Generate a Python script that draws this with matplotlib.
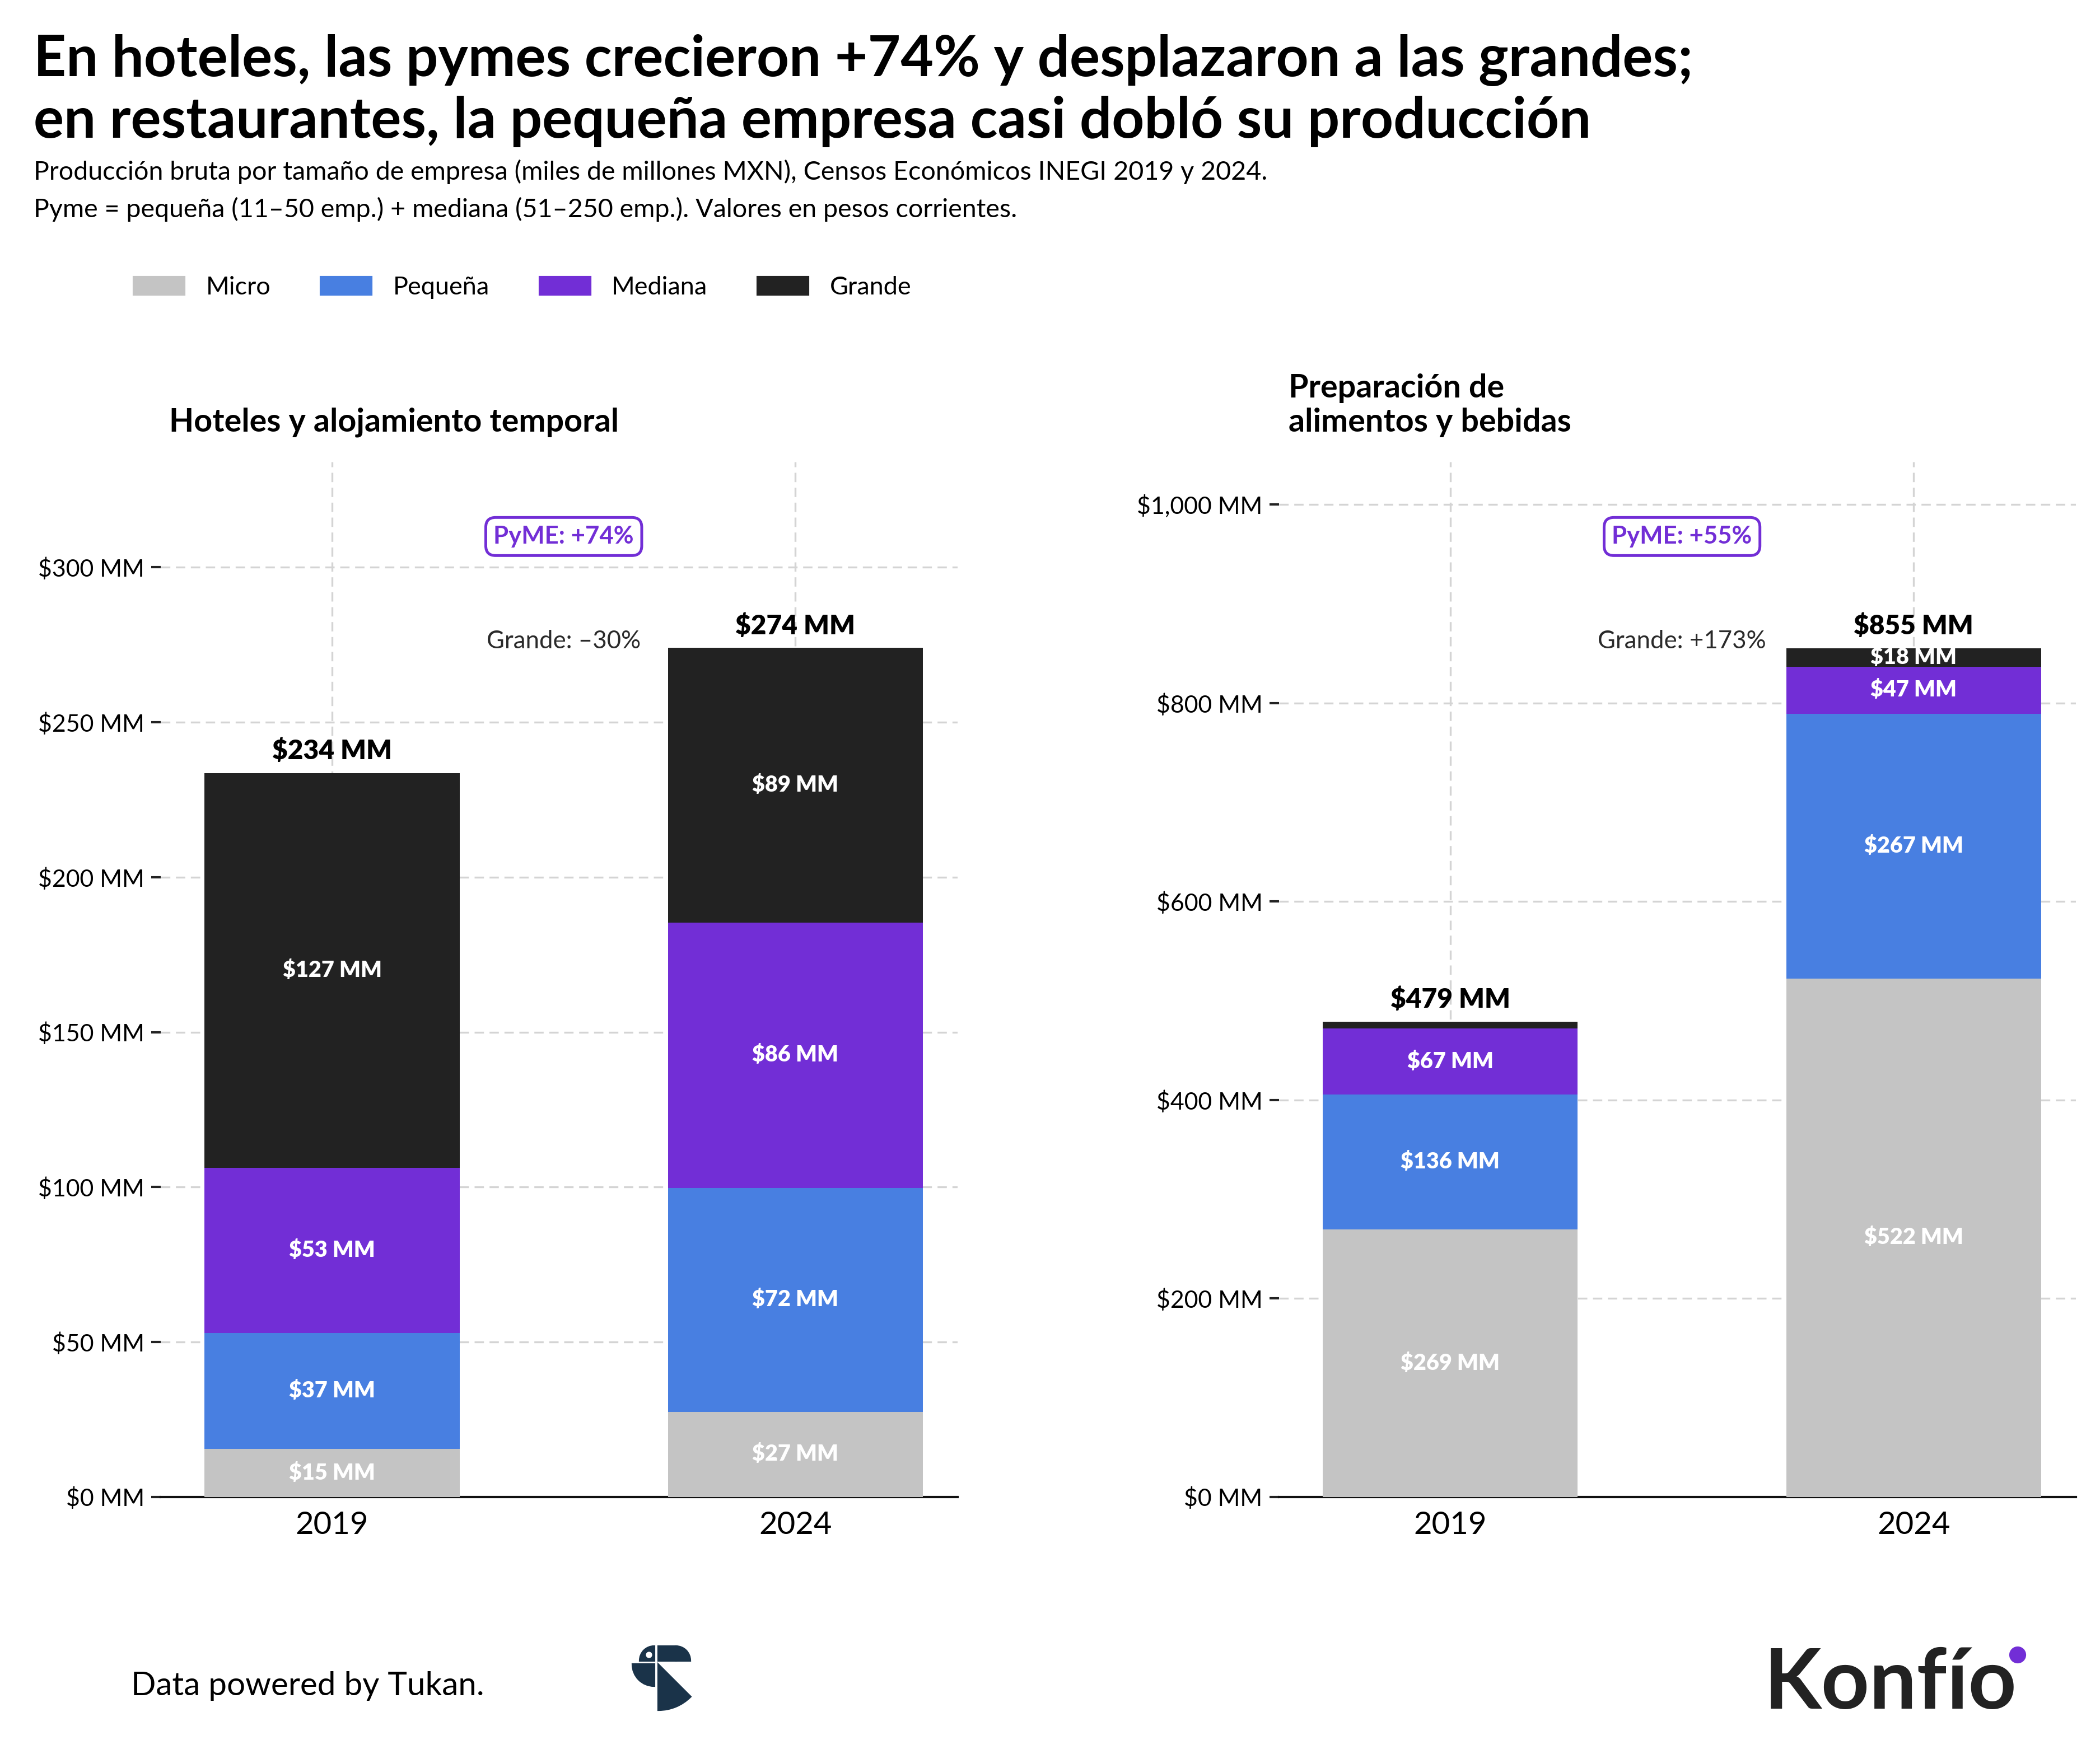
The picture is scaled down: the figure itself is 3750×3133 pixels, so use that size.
import matplotlib
matplotlib.use("Agg")
import matplotlib.pyplot as plt
from matplotlib.patches import Wedge, Rectangle, Circle
from matplotlib.transforms import blended_transform_factory

# Data: produccion bruta (miles de millones MXN)
years = ["2019", "2024"]
sizes = ["Micro", "Pequeña", "Mediana", "Grande"]
colors = ["#c4c4c4", "#487fe1", "#722ed6", "#222222"]

hotel_micro = [15.4, 27.4]
hotel_pequena = [37.4, 72.3]
hotel_mediana = [53.4, 85.7]
hotel_grande = [127.4, 88.6]

rest_micro = [269.3, 522.2]
rest_pequena = [136.0, 267.3]
rest_mediana = [67.0, 47.3]
rest_grande = [6.74, 18.4]

hotel_ticks = [0, 50, 100, 150, 200, 250, 300]
rest_ticks = [0, 200, 400, 600, 800, 1000]

FONT = ["Lato", "DejaVu Sans"]
plt.rcParams["font.family"] = FONT

W, H = 3750, 3133
fig = plt.figure(figsize=(W / 300, H / 300), dpi=300)


def pct(a, b):
    v = round((b / a - 1) * 100)
    return ("+" if v >= 0 else "–") + f"{abs(v)}%"


def draw_panel(ax, series, ticks, ymax):
    x = [0, 1]
    bottom = [0, 0]
    for vals, col in zip(series, colors):
        ax.bar(x, vals, width=0.55, bottom=bottom, color=col, zorder=3)
        for i in range(2):
            # very thin segments get no label
            if vals[i] / ymax > 0.01:
                ax.text(x[i], bottom[i] + vals[i] / 2, f"${vals[i]:.0f} MM",
                        ha="center", va="center", color="white",
                        fontsize=9.5, fontweight="heavy", zorder=4)
        bottom = [bottom[i] + vals[i] for i in range(2)]
    for i in range(2):
        ax.annotate(f"${bottom[i]:.0f} MM", (x[i], bottom[i]), xytext=(0, 4),
                    textcoords="offset points", ha="center", va="bottom",
                    fontsize=11.5, fontweight="heavy", zorder=4)

    ax.set_xlim(-0.37, 1.35)
    ax.set_ylim(0, ymax)
    ax.set_xticks(x)
    ax.set_xticklabels(years, fontsize=13.5)
    ax.set_yticks(ticks)
    ax.set_yticklabels([f"${t:,} MM" for t in ticks], fontsize=10.3)
    ax.tick_params(axis="x", length=0, pad=6)
    ax.tick_params(axis="y", length=4, width=1, color="#222222", pad=3)
    ax.grid(True, color="#d4d4d4", linestyle=(0, (5, 3)), linewidth=0.8, zorder=0)
    ax.set_axisbelow(True)
    for s in ["left", "right", "top"]:
        ax.spines[s].set_visible(False)
    ax.spines["bottom"].set_linewidth(1)
    ax.spines["bottom"].set_color("#111111")

    pyme_a = series[1][0] + series[2][0]
    pyme_b = series[1][1] + series[2][1]
    tr = blended_transform_factory(ax.transData, ax.transAxes)
    ax.text(0.5, 0.928, f"PyME: {pct(pyme_a, pyme_b)}", transform=tr,
            ha="center", va="center", color="#722ed6", fontsize=10.5,
            fontweight="bold",
            bbox=dict(boxstyle="round,pad=0.32,rounding_size=0.4",
                      fc="white", ec="#722ed6", lw=1.2))
    ax.text(0.5, 0.827, f"Grande: {pct(series[3][0], series[3][1])}",
            transform=tr, ha="center", va="center", color="#2a2a2a",
            fontsize=10.5, fontweight="normal")


ax1 = fig.add_axes([0.0765, 0.1466, 0.3795, 0.59])
ax2 = fig.add_axes([0.609, 0.1466, 0.3795, 0.59])
draw_panel(ax1, [hotel_micro, hotel_pequena, hotel_mediana, hotel_grande],
           hotel_ticks, 334)
draw_panel(ax2, [rest_micro, rest_pequena, rest_mediana, rest_grande],
           rest_ticks, 1043)

# titles
fig.text(0.016, 0.9565, "En hoteles, las pymes crecieron +74% y desplazaron a las grandes;",
         fontsize=24.3, fontweight="bold", va="baseline")
fig.text(0.016, 0.9214, "en restaurantes, la pequeña empresa casi dobló su producción",
         fontsize=24.3, fontweight="bold", va="baseline")
fig.text(0.016, 0.8977, "Producción bruta por tamaño de empresa (miles de millones MXN), "
         "Censos Económicos INEGI 2019 y 2024.", fontsize=11.2, va="baseline")
fig.text(0.016, 0.8763, "Pyme = pequeña (11–50 emp.) + mediana (51–250 emp.). "
         "Valores en pesos corrientes.", fontsize=11.2, va="baseline")

fig.text(0.0804, 0.754, "Hoteles y alojamiento temporal", fontsize=13.8,
         fontweight="bold", va="baseline")
fig.text(0.6135, 0.7733, "Preparación de", fontsize=13.8, fontweight="bold",
         va="baseline")
fig.text(0.6135, 0.754, "alimentos y bebidas", fontsize=13.8, fontweight="bold",
         va="baseline")

# legend
handles = [Rectangle((0, 0), 1, 1, color=c) for c in colors]
fig.legend(handles, sizes, loc="center left", bbox_to_anchor=(0.053, 0.836),
           ncol=4, frameon=False, fontsize=10.8, handlelength=2.0,
           handleheight=0.7, columnspacing=2.0, handletextpad=0.85)

# footer
fig.text(0.0625, 0.0336, "Data powered by Tukan.", fontsize=14, va="baseline")

over = fig.add_axes([0, 0, 1, 1], zorder=-1)
over.set_xlim(0, W)
over.set_ylim(0, H)
over.axis("off")
navy = "#1a3349"
over.add_patch(Wedge((1168, H - 2966), 25, 90, 180, color=navy))
over.add_patch(Circle((1159, H - 2956), 3.5, color="white"))
over.add_patch(Rectangle((1176, H - 2966), 31, 25, color=navy))
over.add_patch(Wedge((1207, H - 2966), 25, 0, 90, color=navy))
over.add_patch(Wedge((1168, H - 2973), 38, 180, 270, color=navy))
over.add_patch(Wedge((1176, H - 2974), 80, 270, 315, color=navy))
over.text(3150, H - 3052, "Konfío", fontsize=36, fontweight="bold",
          color="#222222", va="baseline", ha="left")
over.add_patch(Circle((3603, H - 2956), 13, color="#722ed6"))

fig.savefig("out.png", dpi=300, facecolor="white")
